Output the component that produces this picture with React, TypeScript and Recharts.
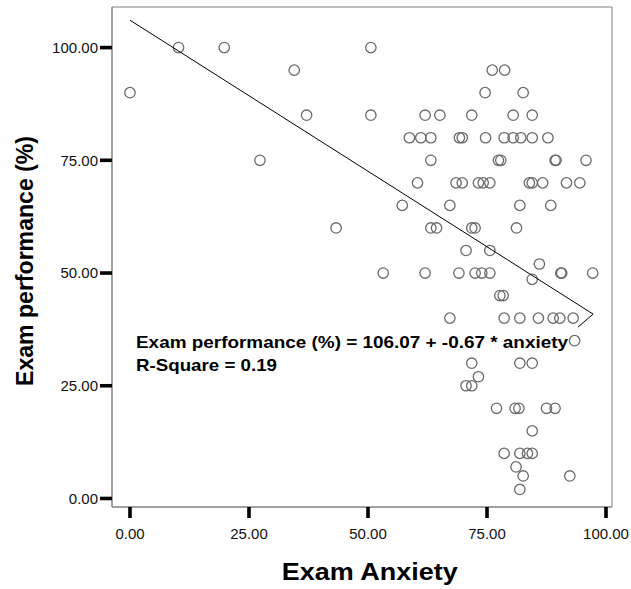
import { ScatterChart, Scatter, XAxis, YAxis, ReferenceArea, Customized } from 'recharts'

// exam anxiety (x) and exam performance % (y)
const anxiety = [
  0, 10.2, 19.8, 34.5, 37.1, 27.3, 43.3, 50.6, 50.6, 76.1, 78.7, 74.6, 82.6,
  62.0, 65.1, 71.8, 80.5, 84.5,
  58.7, 61.1, 63.2, 69.2, 69.8, 74.7, 78.6, 80.5, 82.1, 84.5, 87.8,
  63.2, 77.4, 77.9, 89.3, 89.5, 95.8,
  60.4, 68.5, 69.8, 73.2, 74.2, 75.6, 83.9, 84.5, 86.7, 91.7, 94.5,
  57.2, 67.2, 81.9, 88.4,
  63.2, 64.4, 71.8, 72.5, 81.2,
  70.6, 75.6, 86.0,
  53.2, 62.0, 69.1, 72.5, 73.9, 75.6, 84.5, 90.5, 90.7, 97.2,
  77.7, 78.4,
  67.2, 78.6, 81.9, 85.8, 88.9, 90.3, 93.1, 93.4,
  71.8, 81.9, 84.5, 73.2, 70.6, 71.8,
  77.0, 80.9, 81.7, 87.5, 89.3, 84.5,
  78.6, 81.9, 83.5, 84.5, 81.1, 82.6, 92.4, 81.9,
]
const performance = [
  90, 100, 100, 95, 85, 75, 60, 100, 85, 95, 95, 90, 90,
  85, 85, 85, 85, 85,
  80, 80, 80, 80, 80, 80, 80, 80, 80, 80, 80,
  75, 75, 75, 75, 75, 75,
  70, 70, 70, 70, 70, 70, 70, 70, 70, 70, 70,
  65, 65, 65, 65,
  60, 60, 60, 60, 60,
  55, 55, 52,
  50, 50, 50, 50, 50, 50, 48.6, 50, 50, 50,
  45, 45,
  40, 40, 40, 40, 40, 40, 40, 35,
  30, 30, 30, 27, 25, 25,
  20, 20, 20, 20, 20, 15,
  10, 10, 10, 10, 7, 5, 5, 2,
]

// fitted line as drawn (with the little hook at the end)
const fitX = [0, 97.3, 94.1]
const fitY = [106.07, 40.88, 38.0]

const xTicks = [0, 25, 50, 75, 100]
const yTicks = [0, 25, 50, 75, 100]
const equation = ['Exam performance (%) = 106.07 + -0.67 * anxiety', 'R-Square = 0.19']

const points = anxiety.map((x, i) => ({ x, y: performance[i] }))
const fitLine = fitX.map((x, i) => ({ x, y: fitY[i] }))

const xDomain = [-3.78, 101.26]
const yDomain = [-1.89, 109.0]
const font = '"Liberation Sans", Arial, sans-serif'

const Ring = (p: any) => (
  <circle cx={p.cx} cy={p.cy} r={5.2} fill="none" stroke="#6a6a6a" strokeWidth={1.3} />
)

const Annotations = () => (
  <g fontFamily={font} fontWeight="bold" fill="#000">
    <text x={136} y={348.3} fontSize={16.3} textLength={432} lengthAdjust="spacingAndGlyphs">
      {equation[0]}
    </text>
    <text x={136} y={370.8} fontSize={16.3} textLength={141} lengthAdjust="spacingAndGlyphs">
      {equation[1]}
    </text>
    <text x={281.7} y={580} fontSize={23.3} textLength={176} lengthAdjust="spacingAndGlyphs">
      Exam Anxiety
    </text>
    <text
      x={0}
      y={0}
      fontSize={23.3}
      textLength={250}
      lengthAdjust="spacingAndGlyphs"
      transform="translate(33.3 386) rotate(-90)"
    >
      Exam performance (%)
    </text>
  </g>
)

export default function App() {
  return (
    <div style={{ position: 'absolute', left: 0, top: 0, width: 631, height: 589, background: '#fff' }}>
      <ScatterChart width={631} height={589} margin={{ top: 7, right: 19, left: 0, bottom: 0 }}>
        <XAxis
          type="number"
          dataKey="x"
          domain={xDomain}
          allowDataOverflow
          ticks={xTicks}
          tickFormatter={(v) => v.toFixed(2)}
          height={82}
          tickSize={11}
          tickMargin={10}
          axisLine={{ stroke: '#808080', strokeWidth: 1 }}
          tickLine={{ stroke: '#000', strokeWidth: 3.6 }}
          tick={{ fontSize: 15, fill: '#111', fontFamily: font }}
        />
        <YAxis
          type="number"
          dataKey="y"
          domain={yDomain}
          allowDataOverflow
          ticks={yTicks}
          tickFormatter={(v) => v.toFixed(2)}
          width={112}
          tickSize={12}
          tickMargin={2}
          axisLine={{ stroke: '#808080', strokeWidth: 1 }}
          tickLine={{ stroke: '#000', strokeWidth: 3.6 }}
          tick={{ fontSize: 15, fill: '#111', fontFamily: font }}
        />
        <ReferenceArea
          x1={xDomain[0]}
          x2={xDomain[1]}
          y1={yDomain[0]}
          y2={yDomain[1]}
          fill="none"
          stroke="#808080"
          strokeWidth={1}
        />
        <Scatter data={points} shape={Ring} isAnimationActive={false} />
        <Scatter
          data={fitLine}
          line={{ stroke: '#000', strokeWidth: 1 }}
          shape={() => <g />}
          isAnimationActive={false}
        />
        <Customized component={Annotations} />
      </ScatterChart>
    </div>
  )
}
